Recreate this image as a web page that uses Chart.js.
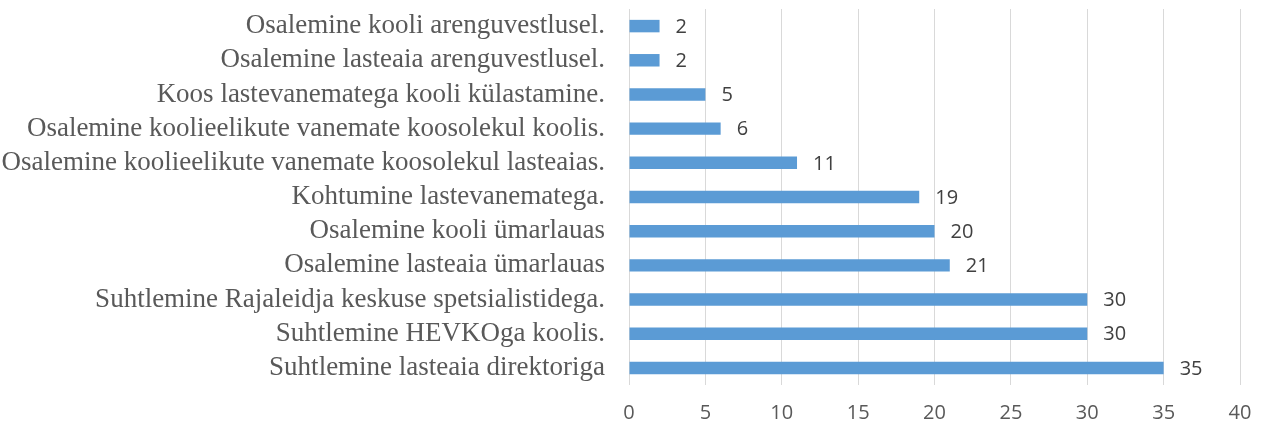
<!DOCTYPE html>
<html><head><meta charset="utf-8">
<script src="https://cdn.jsdelivr.net/npm/chart.js@4/dist/chart.umd.min.js"></script>
<style>html,body{margin:0;padding:0;background:#fff}#w{width:1262px;height:428px}</style>
</head><body><div id="w"><canvas id="c" width="1262" height="428"></canvas></div>
<script>
const categories = [
  "Osalemine kooli arenguvestlusel.",
  "Osalemine lasteaia arenguvestlusel.",
  "Koos lastevanematega kooli külastamine.",
  "Osalemine koolieelikute vanemate koosolekul koolis.",
  "Osalemine koolieelikute vanemate koosolekul lasteaias.",
  "Kohtumine lastevanematega.",
  "Osalemine kooli ümarlauas",
  "Osalemine lasteaia ümarlauas",
  "Suhtlemine Rajaleidja keskuse spetsialistidega.",
  "Suhtlemine HEVKOga koolis.",
  "Suhtlemine lasteaia direktoriga"
];
const values = [2, 2, 5, 6, 11, 19, 20, 21, 30, 30, 35];
const xTicks = [0, 5, 10, 15, 20, 25, 30, 35, 40];

const dataLabels = {
  id: 'dataLabels',
  afterDatasetsDraw(chart) {
    const ctx = chart.ctx;
    const meta = chart.getDatasetMeta(0);
    ctx.save();
    ctx.font = '20px "Open Sans"';
    ctx.fillStyle = '#404040';
    ctx.textAlign = 'left';
    ctx.textBaseline = 'middle';
    meta.data.forEach((bar, i) => {
      ctx.fillText(String(values[i]), bar.x + 16, bar.y + 1);
    });
    ctx.restore();
  }
};

new Chart(document.getElementById('c'), {
  type: 'bar',
  data: {
    labels: categories,
    datasets: [{
      data: values,
      backgroundColor: '#5B9BD5',
      borderWidth: 0,
      categoryPercentage: 1,
      barPercentage: 0.365
    }]
  },
  options: {
    indexAxis: 'y',
    responsive: false,
    animation: false,
    layout: { padding: { left: 0, right: 22, top: 9, bottom: 0 } },
    plugins: { legend: { display: false }, tooltip: { enabled: false } },
    scales: {
      x: {
        min: 0, max: 40,
        afterBuildTicks(scale) { scale.ticks = xTicks.map(v => ({ value: v })); },
        ticks: { font: { family: 'Open Sans', size: 20 }, color: '#595959', padding: 16, maxRotation: 0 },
        grid: { color: '#d9d9d9', lineWidth: 1, drawTicks: false },
        border: { display: false },
        afterFit(scale) { scale.height = 43; scale.paddingLeft = 0; scale.paddingRight = 0; }
      },
      y: {
        ticks: { font: { family: 'Liberation Serif', size: 27 }, color: '#595959', padding: 24, autoSkip: false },
        grid: { display: false, drawTicks: false },
        border: { display: false },
        afterFit(scale) { scale.width = 629; scale.paddingTop = 0; scale.paddingBottom = 0; }
      }
    }
  },
  plugins: [dataLabels]
});
</script>
</body></html>
